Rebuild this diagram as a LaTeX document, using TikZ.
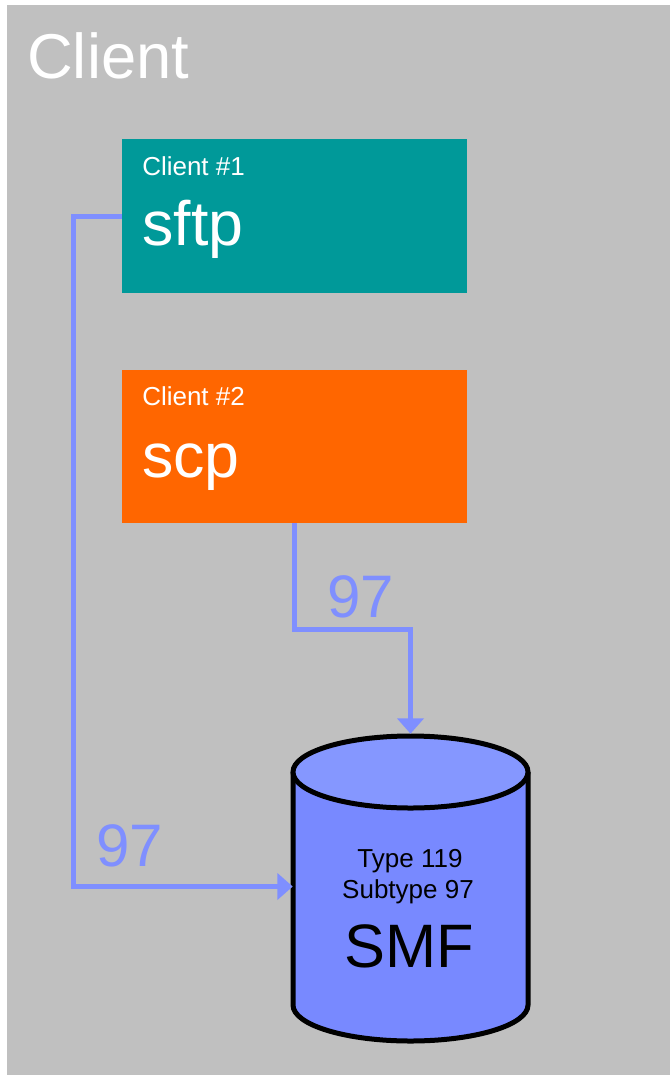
\documentclass[tikz,border=0pt]{standalone}
\usepackage{fontspec}
\setmainfont{Liberation Sans}
\usetikzlibrary{arrows.meta}
\definecolor{panelgray}{HTML}{C0C0C0}
\definecolor{teal1}{HTML}{009999}
\definecolor{orange1}{HTML}{FF6600}
\definecolor{flowblue}{HTML}{7F8FFF}
\definecolor{cylbody}{HTML}{7889FF}
\definecolor{cyltop}{HTML}{8597FF}
\tikzset{
  clientbox/.style={draw=none, inner sep=0pt, minimum width=258.75pt, minimum height=115pt},
  smalllabel/.style={anchor=base west, inner sep=0pt, text=white, font=\fontsize{19.5}{23}\selectfont},
  biglabel/.style={anchor=base west, inner sep=0pt, text=white, font=\fontsize{47}{54}\selectfont},
  flow/.style={draw=flowblue, line width=3.75pt, line join=miter,
    -{Triangle[length=11.5pt, width=19.5pt]}},
  flowlabel/.style={anchor=base west, inner sep=0pt, text=flowblue, font=\fontsize{45}{54}\selectfont},
  cyltext/.style={anchor=base, inner sep=0pt, text=black, font=\fontsize{19.5}{23}\selectfont},
  cylline/.style={draw=black, line width=3.75pt}
}
\begin{document}
\begin{tikzpicture}[x=0.75pt, y=-0.75pt]
  \useasboundingbox (0,0) rectangle (671,1075);
  % grey panel
  \fill[panelgray] (7,5) rectangle (670,1075);
  \node[biglabel, font=\fontsize{47.5}{54}\selectfont] (title) at (27,78) {Client};

  % client boxes
  \node[clientbox, fill=teal1] (c1) at (294.5,216) {};
  \node[smalllabel] (c1tag) at (142,175) {Client \#1};
  \node[biglabel] (c1name) at (142,245) {sftp};

  \node[clientbox, fill=orange1] (c2) at (294.5,446.5) {};
  \node[smalllabel] (c2tag) at (142,405) {Client \#2};
  \node[biglabel] (c2name) at (142,477) {scp};

  % SMF data set (cylinder)
  \node[draw=none, inner sep=0pt, minimum width=176.25pt, minimum height=228.75pt] (cyl) at (410.5,886.5) {};
  \fill[cylbody] (293,772) rectangle (528,1005);
  \fill[cylbody] (410.5,1005) ellipse[x radius=117.5, y radius=36];
  \draw[cylline] (293,772) -- (293,1005)
    arc[start angle=180, end angle=0, x radius=117.5, y radius=36] -- (528,772);
  \filldraw[cylline, fill=cyltop] (410.5,772) ellipse[x radius=117.5, y radius=36];
  \node[cyltext] (t1) at (410,867) {Type 119};
  \node[cyltext] (t2) at (408,898) {Subtype 97};
  \node[cyltext, font=\fontsize{46}{54}\selectfont] (t3) at (409,967) {SMF};

  % connectors
  \draw[flow] (c1.west) -- ++(-48.5,0) |- (cyl.west);
  \draw[flow] (c2.south) -- ++(0,106) -| (cyl.north);
  \node[flowlabel] (l2) at (327,617) {97};
  \node[flowlabel] (l1) at (96,866) {97};
\end{tikzpicture}
\end{document}
